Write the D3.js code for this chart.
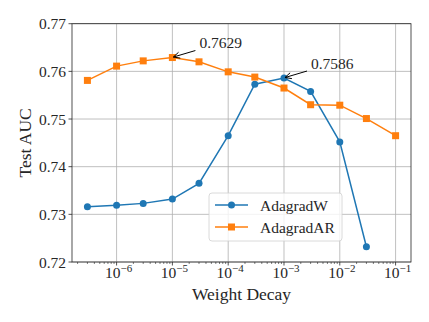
<!DOCTYPE html>
<html>
<head>
<meta charset="utf-8">
<script src="https://cdn.jsdelivr.net/npm/d3@7"></script>
<style>
  body { margin: 0; background: #fff; }
</style>
</head>
<body>
<div id="chart"></div>
<script>
// weight decay values (x) and test AUC for each optimizer
const decays = [3e-7, 1e-6, 3e-6, 1e-5, 3e-5, 1e-4, 3e-4, 1e-3, 3e-3, 1e-2, 3e-2, 1e-1];
const adagradW = [0.7316, 0.7319, 0.7323, 0.7332, 0.7365, 0.7465, 0.7573, 0.7586, 0.7558, 0.7452, 0.7232];
const adagradAR = [0.7581, 0.7611, 0.7622, 0.7629, 0.7620, 0.7599, 0.7588, 0.7565, 0.7530, 0.7529, 0.7501, 0.7465];
const yTicks = [0.72, 0.73, 0.74, 0.75, 0.76, 0.77];
const xExps = [-6, -5, -4, -3, -2, -1];
const seriesNames = ['AdagradW', 'AdagradAR'];
const colors = ['#1f77b4', '#ff7f0e'];
// annotated peaks: [series index, point index, label]
const notes = [[1, 3, '0.7629'], [0, 7, '0.7586']];

const FONT = "'Liberation Serif', 'DejaVu Serif', serif";
const width = 429, height = 322;
const margin = {left: 72, right: 18, top: 23.7, bottom: 60};

const svg = d3.select('#chart').append('svg')
  .attr('width', width)
  .attr('height', height)
  .style('font-family', FONT);

// log x with matplotlib-style 5% margins (in log space)
const lo = Math.log10(d3.min(decays)), hi = Math.log10(d3.max(decays));
const pad = (hi - lo) * 0.05;
const x = d3.scaleLog()
  .domain([Math.pow(10, lo - pad), Math.pow(10, hi + pad)])
  .range([margin.left, width - margin.right]);
const y = d3.scaleLinear()
  .domain([0.72, 0.77])
  .range([height - margin.bottom, margin.top]);

const x0 = margin.left, x1 = width - margin.right;
const y0 = height - margin.bottom, y1 = margin.top;

// grid
const grid = svg.append('g').attr('stroke', '#b0b0b0').attr('stroke-width', 0.8);
xExps.forEach(e => {
  const px = x(Math.pow(10, e));
  grid.append('line').attr('x1', px).attr('x2', px).attr('y1', y0).attr('y2', y1);
});
yTicks.forEach(t => {
  grid.append('line').attr('x1', x0).attr('x2', x1).attr('y1', y(t)).attr('y2', y(t));
});

// minor ticks on x
const minor = [];
for (let e = -7; e <= -1; e++) {
  for (let m = 2; m <= 9; m++) {
    const v = m * Math.pow(10, e);
    if (v > x.domain()[0] && v < x.domain()[1]) minor.push(v);
  }
}
svg.append('g').selectAll('line').data(minor).enter().append('line')
  .attr('x1', d => x(d)).attr('x2', d => x(d))
  .attr('y1', y0).attr('y2', y0 + 2)
  .attr('stroke', '#262626').attr('stroke-width', 0.6);

// major x ticks + labels
const xt = svg.append('g');
xExps.forEach(e => {
  const px = x(Math.pow(10, e));
  xt.append('line').attr('x1', px).attr('x2', px).attr('y1', y0).attr('y2', y0 + 3.5)
    .attr('stroke', '#262626').attr('stroke-width', 0.8);
  const t = xt.append('text')
    .attr('x', px + 2).attr('y', 277.5)
    .attr('text-anchor', 'middle')
    .attr('fill', '#262626')
    .style('font-size', '15.5px');
  t.append('tspan').text('10');
  t.append('tspan').attr('dy', -6).style('font-size', '11px').text('\u2212' + Math.abs(e));
});

// y ticks + labels
const yt = svg.append('g');
yTicks.forEach(v => {
  yt.append('line').attr('x1', x0 - 3.5).attr('x2', x0).attr('y1', y(v)).attr('y2', y(v))
    .attr('stroke', '#262626').attr('stroke-width', 0.8);
  yt.append('text')
    .attr('x', x0 - 6).attr('y', y(v) + 5.5)
    .attr('text-anchor', 'end')
    .attr('fill', '#262626')
    .style('font-size', '15.5px')
    .text(v.toFixed(2));
});

// frame
svg.append('rect')
  .attr('x', x0).attr('y', y1).attr('width', x1 - x0).attr('height', y0 - y1)
  .attr('fill', 'none').attr('stroke', '#262626').attr('stroke-width', 0.8);

// axis labels
svg.append('text')
  .attr('x', (x0 + x1) / 2).attr('y', 300)
  .attr('text-anchor', 'middle')
  .attr('fill', '#262626')
  .style('font-size', '17.5px')
  .text('Weight Decay');
svg.append('text')
  .attr('transform', 'translate(31,' + ((y0 + y1) / 2) + ') rotate(-90)')
  .attr('text-anchor', 'middle')
  .attr('fill', '#262626')
  .style('font-size', '17.5px')
  .text('Test AUC');

// series
const allSeries = [adagradW, adagradAR];
const line = d3.line().x(d => x(d[0])).y(d => y(d[1]));
allSeries.forEach((vals, i) => {
  const pts = vals.map((v, j) => [decays[j], v]);
  const g = svg.append('g');
  g.append('path').attr('d', line(pts))
    .attr('fill', 'none').attr('stroke', colors[i]).attr('stroke-width', 1.5);
  if (i === 0) {
    g.selectAll('circle').data(pts).enter().append('circle')
      .attr('cx', d => x(d[0])).attr('cy', d => y(d[1])).attr('r', 3.5)
      .attr('fill', colors[i]);
  } else {
    g.selectAll('rect').data(pts).enter().append('rect')
      .attr('x', d => x(d[0]) - 3.5).attr('y', d => y(d[1]) - 3.5)
      .attr('width', 7).attr('height', 7)
      .attr('fill', colors[i]);
  }
});

// annotations with open arrowheads
notes.forEach(n => {
  const px = x(decays[n[1]]), py = y(allSeries[n[0]][n[1]]);
  const tx = px + 23, ty = py - 7;
  svg.append('line').attr('x1', tx).attr('y1', ty).attr('x2', px + 1).attr('y2', py - 0.5)
    .attr('stroke', '#000').attr('stroke-width', 1);
  const ang = Math.atan2(ty - py, tx - px);
  [-0.45, 0.45].forEach(da => {
    svg.append('line')
      .attr('x1', px + 1).attr('y1', py - 0.5)
      .attr('x2', px + 1 + 7 * Math.cos(ang + da)).attr('y2', py - 0.5 + 7 * Math.sin(ang + da))
      .attr('stroke', '#000').attr('stroke-width', 1);
  });
  svg.append('text')
    .attr('x', px + 27).attr('y', py - 9.5)
    .attr('fill', '#262626')
    .style('font-size', '15.5px')
    .text(n[2]);
});

// legend
const lg = svg.append('g').attr('transform', 'translate(209,193)');
lg.append('rect').attr('width', 133).attr('height', 48).attr('rx', 3)
  .attr('fill', '#fff').attr('fill-opacity', 0.8)
  .attr('stroke', '#d0d0d0').attr('stroke-width', 0.8);
seriesNames.forEach((name, i) => {
  const cy = 12 + i * 22;
  lg.append('line').attr('x1', 6).attr('x2', 39).attr('y1', cy).attr('y2', cy)
    .attr('stroke', colors[i]).attr('stroke-width', 1.5);
  if (i === 0) {
    lg.append('circle').attr('cx', 22.5).attr('cy', cy).attr('r', 3.5).attr('fill', colors[i]);
  } else {
    lg.append('rect').attr('x', 19).attr('y', cy - 3.5).attr('width', 7).attr('height', 7).attr('fill', colors[i]);
  }
  lg.append('text').attr('x', 51).attr('y', cy + 5.5)
    .attr('fill', '#262626')
    .style('font-size', '15.5px').text(name);
});
</script>
</body>
</html>
